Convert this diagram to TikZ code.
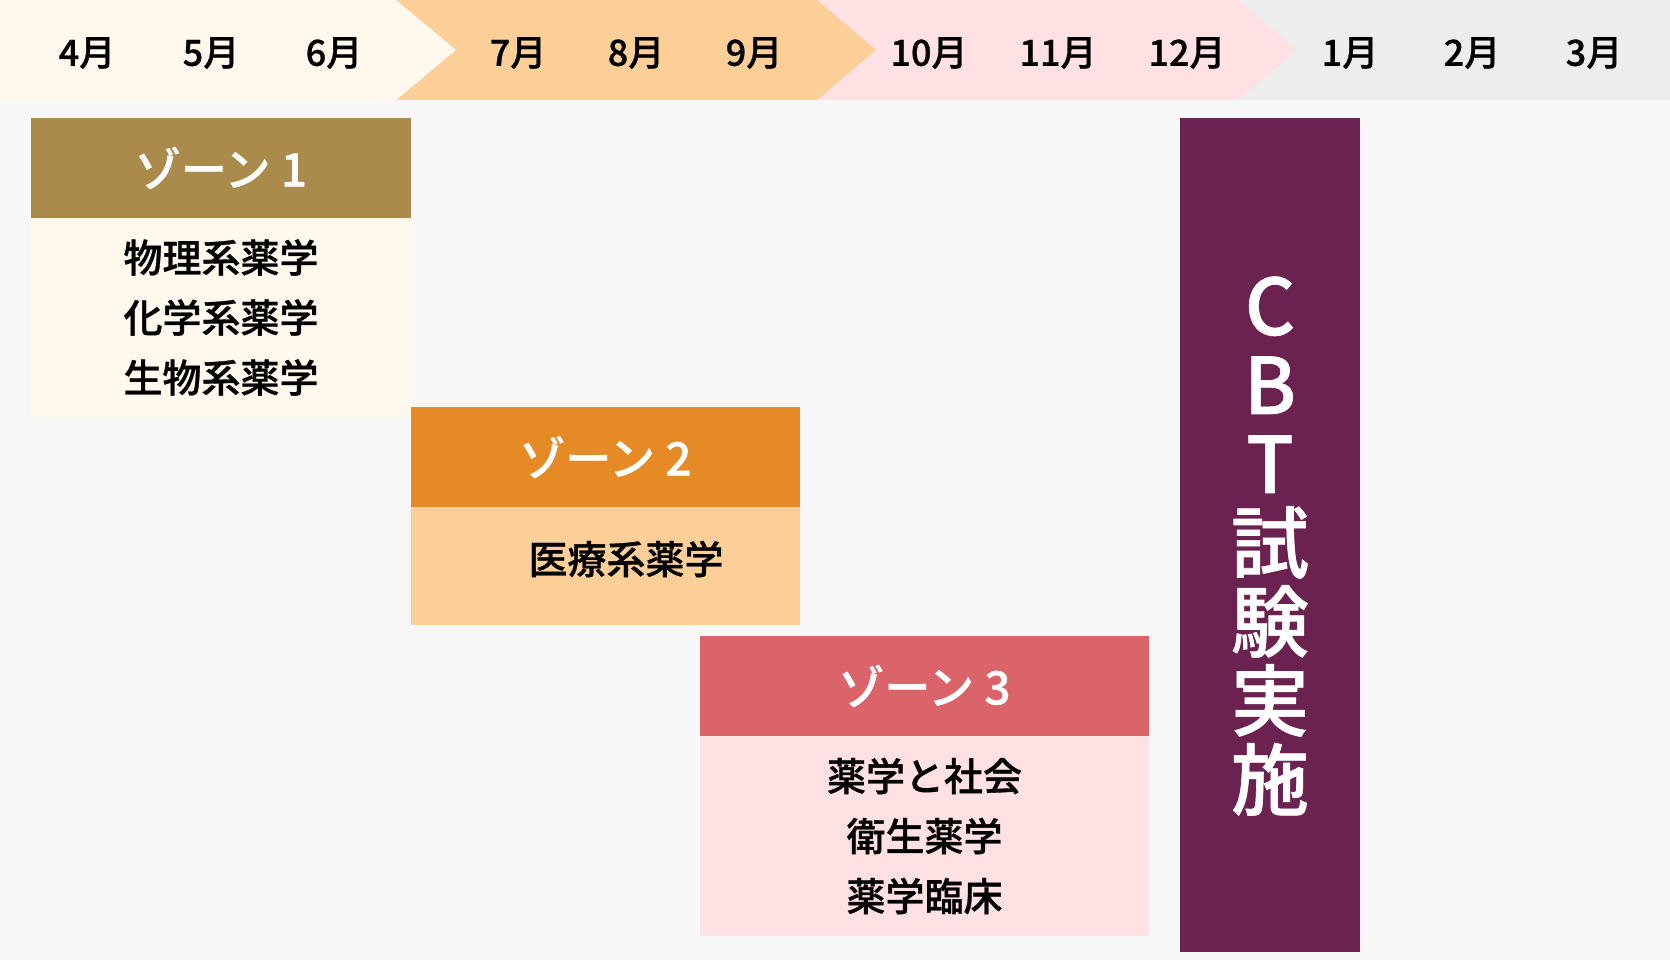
\documentclass[tikz,border=0pt]{standalone}
\usepackage{fontspec}
\setmainfont{Noto Sans CJK JP}[BoldFont={Noto Sans CJK JP Medium}, BoldFeatures={FakeBold=0.8}]
\usetikzlibrary{positioning}

\definecolor{bggray}{HTML}{F7F7F7}
\definecolor{bandgray}{HTML}{EDEDED}
\definecolor{creamA}{HTML}{FFF8EC}
\definecolor{orangeB}{HTML}{FCCF99}
\definecolor{pinkC}{HTML}{FFE0E3}
\definecolor{headA}{HTML}{AB8B4B}
\definecolor{headB}{HTML}{E68A25}
\definecolor{headC}{HTML}{DB636A}
\definecolor{cbtpurple}{HTML}{6B2250}

\begin{document}
\begin{tikzpicture}[
    x=1pt, y=-1pt,
    month/.style={font=\fontsize{36}{40}\selectfont\bfseries, text=black},
    zonehead/.style={minimum height=100pt, inner sep=0pt, outer sep=0pt, text=white,
        font=\fontsize{46}{50}\selectfont\bfseries},
    zonebody/.style={inner sep=0pt, outer sep=0pt, align=center, text=black,
        font=\fontsize{39}{60}\selectfont\bfseries},
    bodytext/.style={font=\fontsize{39}{60}\selectfont\bfseries, text=black},
    cbtbox/.style={fill=cbtpurple, minimum width=180pt, minimum height=834pt,
        inner sep=0pt, outer sep=0pt},
    cbttext/.style={text=white, align=center, font=\fontsize{78}{79}\selectfont\bfseries}
]

% 背景
\useasboundingbox (0,0) rectangle (1670,960);
\fill[bggray] (0,0) rectangle (1670,960);

% 月の帯
\fill[bandgray] (0,0) rectangle (1670,100);
\fill[pinkC] (817,0) -- (1238,0) -- (1297,50) -- (1238,100) -- (817,100) -- cycle;
\fill[orangeB] (396,0) -- (817,0) -- (876,50) -- (817,100) -- (396,100) -- cycle;
\fill[creamA] (0,0) -- (396,0) -- (456,50) -- (396,100) -- (0,100) -- cycle;

\foreach \m/\x in {4/87,5/211,6/334,7/518,8/636,9/754,10/929,11/1058,12/1187,1/1350,2/1472,3/1594}
    \node[month] (m\m) at (\x,53) {\m 月};

% ゾーン1
\node[zonehead, fill=headA, minimum width=380pt, anchor=north west] (z1head) at (31,118) {ゾーン 1};
\node[zonebody, fill=creamA, minimum width=380pt, minimum height=199pt, below=0pt of z1head] (z1body)
    {物理系薬学\\化学系薬学\\生物系薬学};

% ゾーン2
\node[zonehead, fill=headB, minimum width=389pt, anchor=north west] (z2head) at (411,407) {ゾーン 2};
\node[zonebody, fill=orangeB, minimum width=389pt, minimum height=118pt, below=0pt of z2head] (z2body) {};
\node[bodytext] (z2text) at (626,559) {医療系薬学};

% ゾーン3
\node[zonehead, fill=headC, minimum width=449pt, anchor=north west] (z3head) at (700,636) {ゾーン 3};
\node[zonebody, fill=pinkC, minimum width=449pt, minimum height=200pt, below=0pt of z3head] (z3body)
    {薬学と社会\\衛生薬学\\薬学臨床};

% CBT
\node[cbtbox, anchor=north west] (cbt) at (1180,118) {};
\node[cbttext] (cbtlabel) at (1270,546) {C\\B\\T\\試\\験\\実\\施};

\end{tikzpicture}
\end{document}
